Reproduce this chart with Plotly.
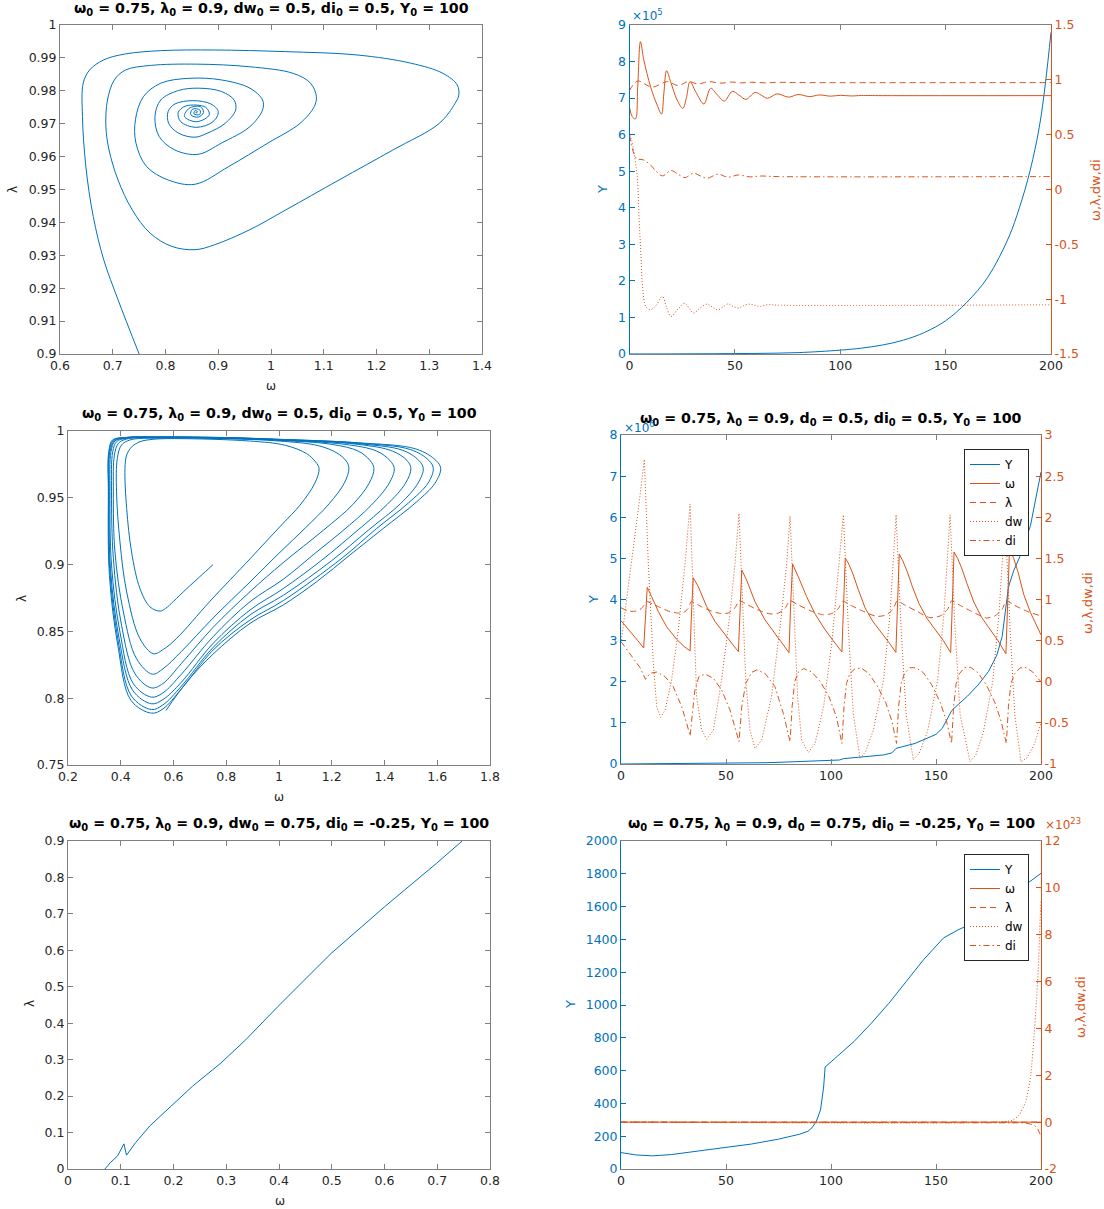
import plotly.graph_objects as go

# ---------------- data ----------------
# Panel 1: phase portrait, spiral (omega, lambda)
p1_omega = [0.750,0.710,0.683,0.663,0.649,0.6426,0.644,0.656,0.683,0.724,0.791,0.893,1.028,1.163,1.265,1.326,1.353,1.356,1.349,1.319,
            1.231,1.129,1.028,0.960,0.893,0.856,0.812,0.771,0.737,0.710,0.693,0.687,0.690,0.703,0.724,0.771,0.859,0.960,1.042,1.075,
            1.086,1.082,1.055,0.994,0.920,0.856,0.805,0.764,0.744,0.743,0.758,0.791,0.845,0.906,0.960,0.984,0.984,0.960,0.906,0.862,
            0.818,0.788,0.780,0.791,0.825,0.862,0.906,0.930,0.933,0.913,0.879,0.856,0.825,0.806,0.805,0.818,0.852,0.886,0.900,0.890,
            0.858,0.829,0.824,0.839,0.876,0.883,0.859,0.836,0.845,0.866,0.872,0.862,0.848,0.851,0.865,0.865,0.854,0.856,0.861,0.858,0.858]
p1_lambda = [0.900,0.9165,0.9286,0.9418,0.957,0.9722,0.9823,0.9863,0.9894,0.9912,0.9922,0.9924,0.9919,0.9909,0.9884,0.9853,0.9818,0.9787,0.9762,0.9701,
             0.962,0.9529,0.9438,0.9378,0.9332,0.9317,0.9327,0.9367,0.9438,0.9529,0.962,0.9691,0.9772,0.9833,0.9863,0.9877,0.9881,0.9873,0.9853,0.9823,
             0.9782,0.9752,0.9701,0.9641,0.957,0.9516,0.9529,0.957,0.9641,0.9712,0.9782,0.9823,0.9838,0.9833,0.9808,0.9772,0.9742,0.9691,0.9641,0.9607,
             0.962,0.9661,0.9722,0.9772,0.9801,0.9808,0.9798,0.9772,0.9742,0.9701,0.9671,0.9659,0.9671,0.9701,0.9737,0.976,0.977,0.976,0.9737,0.9706,
             0.9689,0.9706,0.9734,0.9754,0.975,0.9727,0.9706,0.9722,0.9747,0.9752,0.9734,0.972,0.9727,0.9744,0.9742,0.9728,0.973,0.974,0.9736,0.9733,0.9736]

# Panel 2: time series (t, value); Y in absolute units, others on the right axis
p2_Y = [(0,100),(20,300),(40,700),(60,1600),(80,3800),(100,10500),(110,16000),(120,24500),(130,38000),(140,59000),
        (150,91000),(160,141000),(170,210000),(180,320000),(185,400000),(190,500000),(195,640000),(200,880000)]
p2_omega = [(0,0.75),(1.3,0.664),(2.8,0.643),(3.9,0.937),(5.2,1.348),(6.8,1.181),(10,0.937),(13.1,0.771),(15.2,0.688),(16.3,0.877),
            (17.6,1.083),(19.5,0.983),(22.6,0.816),(25.3,0.74),(27.1,0.846),(28.7,0.983),(31.4,0.892),(35.3,0.78),(38.5,0.923),(41.7,0.862),
            (45,0.807),(48.8,0.895),(52,0.86),(55.3,0.822),(59.6,0.885),(62.5,0.86),(65.5,0.832),(70,0.872),(75.5,0.842),(80,0.866),
            (85.5,0.847),(90,0.862),(95.5,0.851),(100,0.859),(105,0.853),(110,0.857),(120,0.856),(200,0.856)]
p2_lambda = [(0,0.902),(2,0.96),(4.1,0.99),(7,0.965),(10.7,0.932),(14,0.955),(18,0.984),(21,0.962),(23,0.947),(25.5,0.965),
             (27.9,0.987),(30.5,0.972),(32.8,0.962),(35.5,0.975),(37.8,0.984),(41,0.975),(44,0.97),(48,0.98),(53,0.972),(58,0.978),
             (64,0.973),(70,0.977),(80,0.975),(200,0.975)]
p2_dw = [(0,0.497),(1,0.45),(2.2,0.33),(3.2,0.2),(3.8,0.087),(4.6,-0.278),(5.4,-0.582),(6.2,-0.886),(7.8,-1.069),(9.9,-1.096),
         (12.5,-1.06),(15.6,-0.975),(17.5,-1.07),(19.7,-1.157),(23,-1.09),(26.3,-1.036),(28.5,-1.09),(30.4,-1.127),(33.5,-1.08),(36.9,-1.045),
         (39.5,-1.075),(41.9,-1.097),(44.5,-1.07),(46.8,-1.042),(49,-1.065),(51.7,-1.081),(54,-1.06),(56.7,-1.045),(60,-1.06),(62,-1.065),
         (66,-1.05),(70,-1.055),(200,-1.051)]
p2_di = [(0,0.498),(3.3,0.285),(6.6,0.27),(9.9,0.225),(12.5,0.17),(15.6,0.124),(19.7,0.173),(23,0.14),(26.3,0.109),(30.4,0.149),
         (33.5,0.125),(36.9,0.103),(41.9,0.14),(46.8,0.112),(51.7,0.133),(57,0.115),(62,0.123),(70,0.118),(200,0.118)]

# Panel 3: phase portrait, outward spiral (omega, lambda)
p3_omega = [0.750,0.70,0.65,0.60,0.57,0.549,0.511,0.473,0.441,0.4225,0.416,0.4225,0.441,0.473,0.524,0.617,0.888,1.024,1.105,1.139,1.152,1.136,1.080,1.016,0.953,0.890,0.738,0.612,0.562,0.524,
            0.473,0.4225,0.397,0.384,0.387,0.403,0.435,0.55,0.8,1.0,1.15,1.22,1.255,1.265,1.248,1.19,1.10,1.0,0.89,0.75,0.63,0.56,0.52,
            0.460,0.410,0.378,0.372,0.376,0.391,0.4225,0.55,0.8,1.0,1.2,1.30,1.345,1.360,1.342,1.28,1.17,1.016,0.89,0.75,0.63,0.56,0.517,
            0.454,0.403,0.372,0.365,0.3695,0.384,0.42,0.55,0.8,1.0,1.25,1.37,1.42,1.437,1.418,1.35,1.24,1.14,1.016,0.89,0.75,0.63,0.56,0.517,
            0.448,0.397,0.365,0.359,0.363,0.378,0.42,0.55,0.8,1.0,1.3,1.43,1.485,1.500,1.48,1.41,1.30,1.16,1.016,0.89,0.75,0.63,0.56,0.517,
            0.4455,0.394,0.361,0.356,0.359,0.376,0.42,0.55,0.8,1.0,1.3,1.47,1.53,1.547,1.527,1.46,1.34,1.20,1.016,0.89,0.75,0.63,0.56,0.517,
            0.441,0.391,0.359,0.354,0.356,0.372,0.42,0.55,0.8,1.0,1.3,1.50,1.568,1.585,1.565,1.49,1.37,1.24,1.016,0.89,0.75,0.63,0.56,0.517,
            0.439,0.389,0.357,0.353,0.355,0.369,0.42,0.55,0.8,1.0,1.3,1.52,1.595,1.613,1.591,1.522,1.395,1.269,1.143,1.016,0.89,0.75,0.65,0.5716]
p3_lambda = [0.900,0.891,0.882,0.8725,0.8672,0.8652,0.8683,0.882,0.9095,0.942,0.972,0.982,0.988,0.992,0.9938,0.9943,0.9925,0.9893,0.983,0.9768,0.972,0.961,0.9446,0.931,0.9177,0.9043,0.8725,0.8448,0.8366,0.8333,
             0.8445,0.8795,0.917,0.9545,0.9795,0.9895,0.9933,0.9947,0.9942,0.9925,0.989,0.9835,0.9775,0.972,0.9612,0.9455,0.9275,0.9085,0.887,0.860,0.835,0.822,0.818,
             0.8295,0.8645,0.9095,0.9545,0.982,0.9907,0.994,0.995,0.9945,0.993,0.990,0.985,0.978,0.972,0.961,0.945,0.926,0.9015,0.8797,0.853,0.826,0.811,0.8077,
             0.8183,0.8545,0.9045,0.9545,0.9845,0.992,0.9945,0.9952,0.9947,0.9932,0.990,0.985,0.978,0.972,0.961,0.9445,0.925,0.909,0.889,0.8722,0.846,0.818,0.804,0.8008,
             0.8108,0.8495,0.8995,0.9545,0.9845,0.9925,0.9948,0.9953,0.9948,0.9935,0.990,0.985,0.978,0.972,0.961,0.945,0.926,0.903,0.882,0.866,0.841,0.812,0.799,0.7958,
             0.8058,0.8445,0.897,0.9545,0.9845,0.9928,0.995,0.9954,0.9949,0.9936,0.9905,0.9855,0.978,0.972,0.961,0.9455,0.926,0.903,0.877,0.8623,0.838,0.809,0.795,0.7915,
             0.8015,0.842,0.8945,0.9545,0.9845,0.993,0.9951,0.9955,0.995,0.9937,0.991,0.986,0.978,0.972,0.961,0.946,0.927,0.905,0.873,0.8585,0.836,0.807,0.792,0.7888,
             0.7983,0.8395,0.892,0.9545,0.985,0.9933,0.9952,0.9956,0.9951,0.9938,0.9912,0.9865,0.978,0.972,0.9608,0.947,0.927,0.9072,0.8872,0.8698,0.856,0.833,0.812,0.7908]

# Panel 4: time series (t, value)
p4_Y = [(0,100),(30,6000),(50,16000),(70,32000),(80,50000),(90,70000),(100,92000),(104,97000),(106,130000),(115,165000),
        (125,220000),(129,270000),(131,380000),(140,500000),(150,720000),(153,870000),(155.5,1100000),(157.5,1300000),(160,1420000),(165,1650000),
        (170,1920000),(175,2250000),(179,2650000),(181.5,3100000),(183,3700000),(184.5,4300000),(187,4700000),(190,5050000),(195,5800000),(200,7100000)]
p4_omega = [(0,0.743),(2.5,0.67),(5.1,0.589),(8,0.5),(10.8,0.41),(11.6,0.8),(12.5,1.148),(14.6,1.034),(17.8,0.852),(21.7,0.67),(26.5,0.516),(30,0.43),(32.9,0.374),
            (33.7,0.913),(34.4,1.265),(36.8,1.156),(40.8,0.913),(44.8,0.731),(49.5,0.568),(53,0.46),(55.9,0.366),
            (56.7,0.953),(57.5,1.359),(59.8,1.237),(63.8,0.974),(68.6,0.751),(73.3,0.589),(77,0.46),(80.0,0.354),
            (80.8,0.953),(81.7,1.432),(84.4,1.278),(88.4,1.034),(92.5,0.82),(97,0.64),(101,0.5),(105.2,0.362),
            (106,0.95),(106.8,1.505),(108.5,1.43),(110.6,1.30),(113,1.12),(116.2,0.9),(120,0.73),(124,0.6),(127.5,0.48),(130.9,0.356),
            (131.7,0.95),(132.5,1.55),(134.2,1.47),(136.3,1.34),(138.7,1.16),(141.9,0.95),(145.7,0.77),(149.7,0.63),(153.5,0.5),(157,0.355),
            (157.8,0.95),(158.6,1.577),(160.3,1.5),(162.4,1.37),(164.8,1.19),(168,0.97),(171.8,0.78),(175.8,0.64),(179.5,0.5),(183.3,0.34),
            (184.1,0.95),(185,1.613),(187,1.5),(189,1.34),(191.8,1.06),(195,0.84),(200,0.57)]
p4_lambda = [(0,0.9),(3,0.865),(5.9,0.855),(9,0.875),(11,0.93),(12.2,0.975),(15,0.945),(17.8,0.913),(22.5,0.86),(27,0.835),
             (30,0.845),(32,0.89),(33.5,0.975),(37,0.93),(42,0.87),(47,0.832),(51,0.835),(54.3,0.9),(56.3,0.985),(60,0.94),
             (65,0.875),(71,0.825),(75,0.835),(78,0.89),(80.5,0.985),(84,0.94),(90,0.865),(96,0.815),(100.5,0.83),(103.5,0.89),
             (105.6,0.98),(109,0.935),(115,0.86),(121.7,0.795),(126,0.81),(129.5,0.88),(131.5,0.982),(135,0.935),(141,0.855),(147,0.78),
             (152,0.8),(155.5,0.88),(157.5,0.986),(161,0.935),(167,0.855),(174,0.775),(178,0.8),(181.5,0.88),(183.5,0.985),(187,0.935),
             (193,0.86),(200,0.8)]
p4_dw = [(0,0.47),(2.5,0.95),(5.1,1.44),(7,1.85),(9,2.25),(11.1,2.704),(13,1.44),(15.4,0.224),(17,-0.303),(18.9,-0.433),(21,-0.344),(24.1,0.021),(27.3,0.629),(30.5,1.44),(32.9,2.161),
         (34.4,1.034),(36,-0.18),(38.4,-0.587),(40.8,-0.70),(44,-0.587),(47.9,0.021),(51.9,0.832),(54.3,1.44),(56.2,2.048),
         (57.5,1.237),(59.4,0.021),(61.4,-0.587),(63.8,-0.81),(67,-0.708),(71.7,-0.18),(76.5,0.832),(78.9,1.44),(80.5,2.015),
         (82.1,1.034),(84.1,-0.18),(86,-0.708),(89.2,-0.86),(92.4,-0.75),(96.5,-0.3),(100.5,0.5),(103.5,1.3),(105.9,2.03),
         (108.3,0.629),(110.6,-0.384),(113.8,-0.931),(116.5,-0.85),(120.2,-0.587),(125,0.021),(128.1,0.832),(131,2.03),
         (133.4,0.629),(135.8,-0.4),(139.2,-0.951),(142,-0.87),(146,-0.6),(150.8,0.02),(153.8,0.83),(156.7,2.03),
         (159.1,0.629),(161.5,-0.4),(166.2,-0.97),(169,-0.89),(172.5,-0.62),(177,0.0),(180,0.83),(182.9,2.0),
         (185.3,0.63),(187.5,-0.4),(190.5,-0.975),(193.5,-0.92),(197,-0.75),(200,-0.5)]
p4_di = [(0,0.487),(5.1,0.305),(9,0.175),(11.7,0.029),(13.8,0.102),(17,0.118),(21,0.062),(24.9,-0.06),(28.9,-0.303),(31.3,-0.506),(32.9,-0.66),
         (34,-0.385),(35.2,-0.10),(37.1,0.062),(40,0.094),(44,0.042),(47.9,-0.10),(51.9,-0.343),(54.3,-0.546),(56.2,-0.728),
         (57.5,-0.303),(59.4,-0.02),(62.2,0.114),(64.6,0.143),(68.6,0.102),(73.3,-0.06),(77.3,-0.385),(80.5,-0.728),
         (81.5,-0.3),(82.7,0.0),(84.5,0.12),(87,0.16),(90.8,0.12),(95,0.0),(99,-0.18),(102.5,-0.42),(105.2,-0.75),
         (106.2,-0.3),(107.4,-0.02),(109,0.1),(111.5,0.16),(114.5,0.165),(118,0.1),(122,-0.05),(126,-0.25),(129,-0.48),(131.2,-0.75),
         (132.2,-0.3),(133.4,-0.02),(135,0.1),(137.5,0.17),(140.5,0.17),(144,0.11),(148,-0.04),(152,-0.25),(155,-0.48),(157.4,-0.75),
         (158.4,-0.3),(159.6,-0.02),(161.2,0.1),(163.5,0.17),(166.5,0.175),(170,0.11),(174,-0.04),(178,-0.25),(181,-0.48),(183.5,-0.75),
         (184.5,-0.3),(185.7,-0.02),(187.5,0.1),(190,0.17),(193,0.17),(196,0.12),(200,0.0)]

# Panel 5: phase portrait (omega, lambda)
p5_omega = [0.7473,0.698,0.600,0.499,0.398,0.337,0.290,0.236,0.195,0.155,0.128,0.114,0.111,0.106,0.094,0.080,0.070]
p5_lambda = [0.9,0.838,0.7194,0.5918,0.4459,0.3547,0.2909,0.227,0.172,0.118,0.072,0.045,0.038,0.069,0.036,0.017,0.0]

# Panel 6: time series (t, value)
p6_Y = [(0,100),(7,86),(15,80),(24,88),(37,110),(50,130),(62,152),(75,182),(85,212),(89,230),(91,252),(93,290),(95,360),
        (96.5,500),(97,600),(97.2,622),(103,687),(111,778),(119.3,890),(127.6,1011),(135.8,1143),(144,1275),(153.6,1409),
        (160.5,1458),(168.7,1506),(180,1614),(190,1710),(194.2,1751),(200,1803)]
p6_omega = [(0,0.0),(200,0.0)]
p6_lambda = [(0,0.0),(200,0.0)]
p6_dw = [(0,0.0),(180,0.0),(186.4,0.08e23),(189.5,0.3e23),(192.7,0.87e23),(195.1,2.0e23),(196.7,3.7e23),(197.8,5.13e23),
         (198.7,6.56e23),(199.4,8.2e23),(200,9.5e23)]
p6_di = [(0,0.0),(188,0.0),(192,-0.03e23),(195,-0.08e23),(197,-0.15e23),(198.5,-0.3e23),(200,-0.6e23)]

titles = {
    'p1': 'ω<sub>0</sub> = 0.75, λ<sub>0</sub> = 0.9, dw<sub>0</sub> = 0.5, di<sub>0</sub> = 0.5, Y<sub>0</sub> = 100',
    'p3': 'ω<sub>0</sub> = 0.75, λ<sub>0</sub> = 0.9, dw<sub>0</sub> = 0.5, di<sub>0</sub> = 0.5, Y<sub>0</sub> = 100',
    'p4': 'ω<sub>0</sub> = 0.75, λ<sub>0</sub> = 0.9, d<sub>0</sub> = 0.5, di<sub>0</sub> = 0.5, Y<sub>0</sub> = 100',
    'p5': 'ω<sub>0</sub> = 0.75, λ<sub>0</sub> = 0.9, dw<sub>0</sub> = 0.75, di<sub>0</sub> = -0.25, Y<sub>0</sub> = 100',
    'p6': 'ω<sub>0</sub> = 0.75, λ<sub>0</sub> = 0.9, d<sub>0</sub> = 0.75, di<sub>0</sub> = -0.25, Y<sub>0</sub> = 100',
}
legend_names = ['Y', 'ω', 'λ', 'dw', 'di']

assert len(p1_omega) == len(p1_lambda)
assert len(p3_omega) == len(p3_lambda)
assert len(p5_omega) == len(p5_lambda)

# ---------------- styling ----------------
W, H = 1104, 1209
BLUE = '#0072BD'
ORANGE = '#D95319'
TXT = '#262626'
FRAME = '#808080'
FONT = 'DejaVu Sans'
DASH = {'solid': 'solid', 'dash': '6px,4px', 'dot': '1px,2px', 'dashdot': '6px,3px,1.5px,3px'}


def fx(p):
    return p / W


def fy(p):
    return 1 - p / H


fig = go.Figure()


def add_line(x, y, xa, ya, color, dash='solid', name=None, legend=None, shape='linear', smoothing=1.0):
    ln = dict(color=color, width=1, dash=DASH[dash], shape=shape)
    if shape == 'spline':
        ln['smoothing'] = smoothing
    fig.add_trace(go.Scatter(
        x=list(x), y=list(y), xaxis=xa, yaxis=ya, mode='lines', line=ln,
        name=name, showlegend=legend is not None, legend=legend or 'legend',
        hoverinfo='skip'))


def add_series(pairs, xa, ya, color, dash='solid', name=None, legend=None, shape='linear', smoothing=1.0):
    t, v = zip(*pairs)
    add_line(t, v, xa, ya, color, dash, name, legend, shape, smoothing)


# Panel 1
add_line(p1_omega, p1_lambda, 'x', 'y', BLUE, shape='spline')
# Panel 2
add_series(p2_Y, 'x2', 'y2', BLUE, shape='spline')
add_series(p2_omega, 'x2', 'y7', ORANGE, 'solid', shape='spline')
add_series(p2_lambda, 'x2', 'y7', ORANGE, 'dash', shape='spline')
add_series(p2_dw, 'x2', 'y7', ORANGE, 'dot', shape='spline')
add_series(p2_di, 'x2', 'y7', ORANGE, 'dashdot', shape='spline')
# Panel 3
add_line(p3_omega, p3_lambda, 'x3', 'y3', BLUE, shape='spline')
# Panel 4
add_series(p4_Y, 'x4', 'y4', BLUE, 'solid', legend_names[0], 'legend')
add_series(p4_omega, 'x4', 'y8', ORANGE, 'solid', legend_names[1], 'legend')
add_series(p4_lambda, 'x4', 'y8', ORANGE, 'dash', legend_names[2], 'legend', 'spline', 0.6)
add_series(p4_dw, 'x4', 'y8', ORANGE, 'dot', legend_names[3], 'legend')
add_series(p4_di, 'x4', 'y8', ORANGE, 'dashdot', legend_names[4], 'legend')
# Panel 5
add_line(p5_omega, p5_lambda, 'x5', 'y5', BLUE)
# Panel 6
add_series(p6_Y, 'x6', 'y6', BLUE, 'solid', legend_names[0], 'legend2')
add_series(p6_omega, 'x6', 'y9', ORANGE, 'solid', legend_names[1], 'legend2')
add_series(p6_lambda, 'x6', 'y9', ORANGE, 'dash', legend_names[2], 'legend2')
add_series(p6_dw, 'x6', 'y9', ORANGE, 'dot', legend_names[3], 'legend2', 'spline', 0.6)
add_series(p6_di, 'x6', 'y9', ORANGE, 'dashdot', legend_names[4], 'legend2')

TICKFONT = 12.5


def fmt(v):
    s = ('%.4f' % v).rstrip('0').rstrip('.')
    return '0' if s in ('-0', '') else s


def xax(d0, d1, anchor, rng, vals):
    return dict(domain=[fx(d0), fx(d1)], anchor=anchor, range=rng, tickvals=vals,
                ticktext=[fmt(v) for v in vals], showline=True, linecolor=FRAME, linewidth=1,
                mirror='ticks', ticks='inside', ticklen=5, tickwidth=1, tickcolor=FRAME,
                showgrid=False, zeroline=False, automargin=False,
                tickfont=dict(family=FONT, size=TICKFONT, color=TXT))


def yax(d0, d1, anchor, rng, vals, texts=None, line=FRAME, text=TXT, mirror='ticks'):
    return dict(domain=[fy(d1), fy(d0)], anchor=anchor, range=rng, tickvals=vals,
                ticktext=texts if texts else [fmt(v) for v in vals], showline=True, linecolor=line,
                linewidth=1, mirror=mirror, ticks='inside', ticklen=5, tickwidth=1, tickcolor=line,
                showgrid=False, zeroline=False, automargin=False,
                tickfont=dict(family=FONT, size=TICKFONT, color=text))


def yright(overlay, anchor, rng, vals, texts):
    return dict(overlaying=overlay, side='right', anchor=anchor, range=rng, tickvals=vals,
                ticktext=texts, showline=True, linecolor=ORANGE, linewidth=1, ticks='inside',
                ticklen=5, tickwidth=1, tickcolor=ORANGE, showgrid=False, zeroline=False,
                automargin=False, tickfont=dict(family=FONT, size=TICKFONT, color=ORANGE))


t_ticks = [0, 50, 100, 150, 200]
legend_style = dict(xanchor='right', yanchor='top', bgcolor='white', bordercolor=TXT, borderwidth=1,
                    font=dict(family=FONT, size=12, color='black'), itemwidth=30, tracegroupgap=0)
layout = dict(
    template='none',
    width=W, height=H, margin=dict(l=0, r=0, t=0, b=0, autoexpand=False),
    paper_bgcolor='white', plot_bgcolor='white', font=dict(family=FONT, color=TXT),
    xaxis=xax(60, 482, 'y', [0.6, 1.4], [0.6, 0.7, 0.8, 0.9, 1.0, 1.1, 1.2, 1.3, 1.4]),
    yaxis=yax(25, 354, 'x', [0.9, 1.0], [0.9 + 0.01 * i for i in range(11)]),
    xaxis2=xax(629.5, 1051, 'y2', [0, 200], t_ticks),
    yaxis2=yax(25, 354, 'x2', [0, 9e5], [i * 1e5 for i in range(10)], [str(i) for i in range(10)],
               line=BLUE, text=BLUE, mirror=False),
    yaxis7=yright('y2', 'x2', [-1.5, 1.5], [-1.5, -1, -0.5, 0, 0.5, 1, 1.5],
                  ['-1.5', '-1', '-0.5', '0', '0.5', '1', '1.5']),
    xaxis3=xax(68, 490, 'y3', [0.2, 1.8], [0.2, 0.4, 0.6, 0.8, 1.0, 1.2, 1.4, 1.6, 1.8]),
    yaxis3=yax(431, 765, 'x3', [0.75, 1.0], [0.75, 0.8, 0.85, 0.9, 0.95, 1.0]),
    xaxis4=xax(621, 1041, 'y4', [0, 200], t_ticks),
    yaxis4=yax(435, 764, 'x4', [0, 8e6], [i * 1e6 for i in range(9)], [str(i) for i in range(9)],
               line=BLUE, text=BLUE, mirror=False),
    yaxis8=yright('y4', 'x4', [-1, 3], [-1, -0.5, 0, 0.5, 1, 1.5, 2, 2.5, 3],
                  ['-1', '-0.5', '0', '0.5', '1', '1.5', '2', '2.5', '3']),
    xaxis5=xax(68, 490, 'y5', [0, 0.8], [0, 0.1, 0.2, 0.3, 0.4, 0.5, 0.6, 0.7, 0.8]),
    yaxis5=yax(841, 1169, 'x5', [0, 0.9], [0.1 * i for i in range(10)]),
    xaxis6=xax(621, 1041, 'y6', [0, 200], t_ticks),
    yaxis6=yax(841, 1169, 'x6', [0, 2000], [200 * i for i in range(11)], None,
               line=BLUE, text=BLUE, mirror=False),
    yaxis9=yright('y6', 'x6', [-2e23, 12e23], [i * 1e23 for i in range(-2, 13, 2)],
                  [str(i) for i in range(-2, 13, 2)]),
    legend=dict(x=fx(1029), y=fy(449), **legend_style),
    legend2=dict(x=fx(1029), y=fy(854), **legend_style),
)
fig.update_layout(**layout)

ann = []


def text(x, y, s, size=12, color=TXT, angle=0, xanchor='center', bold=False):
    ann.append(dict(x=fx(x), y=fy(y), xref='paper', yref='paper', text=('<b>%s</b>' % s) if bold else s,
                    showarrow=False, textangle=angle, xanchor=xanchor, yanchor='middle',
                    font=dict(family=FONT, size=size, color=color)))


TS = 14.2
# titles
text(271, 9, titles['p1'], TS, 'black', bold=True)
text(279, 414, titles['p3'], TS, 'black', bold=True)
text(831, 419, titles['p4'], TS, 'black', bold=True)
text(279, 824, titles['p5'], TS, 'black', bold=True)
text(831, 824, titles['p6'], TS, 'black', bold=True)
# axis labels
text(13, 190, 'λ', 12, TXT, -90)
text(271, 386, 'ω', 12, TXT)
text(602, 190, 'Y', 13, BLUE, -90)
text(1095, 190, 'ω,λ,dw,di', 13, ORANGE, -90)
text(22, 598, 'λ', 12, TXT, -90)
text(279, 797, 'ω', 12, TXT)
text(593, 600, 'Y', 13, BLUE, -90)
text(1088, 603, 'ω,λ,dw,di', 13, ORANGE, -90)
text(30, 1004, 'λ', 12, TXT, -90)
text(280, 1201, 'ω', 12, TXT)
text(570, 1005, 'Y', 13, BLUE, -90)
text(1080, 1007, 'ω,λ,dw,di', 13, ORANGE, -90)
# exponent labels
text(630, 15, '×10<sup>5</sup>', 12, BLUE, xanchor='left')
text(622, 427, '×10<sup>6</sup>', 12, BLUE, xanchor='left')
text(1043, 824, '×10<sup>23</sup>', 12, ORANGE, xanchor='left')

fig.update_layout(annotations=ann)
fig.write_html('out.html', config={'displayModeBar': False, 'staticPlot': True},
               post_script="document.body.style.margin='0px';document.body.style.overflow='hidden';")
